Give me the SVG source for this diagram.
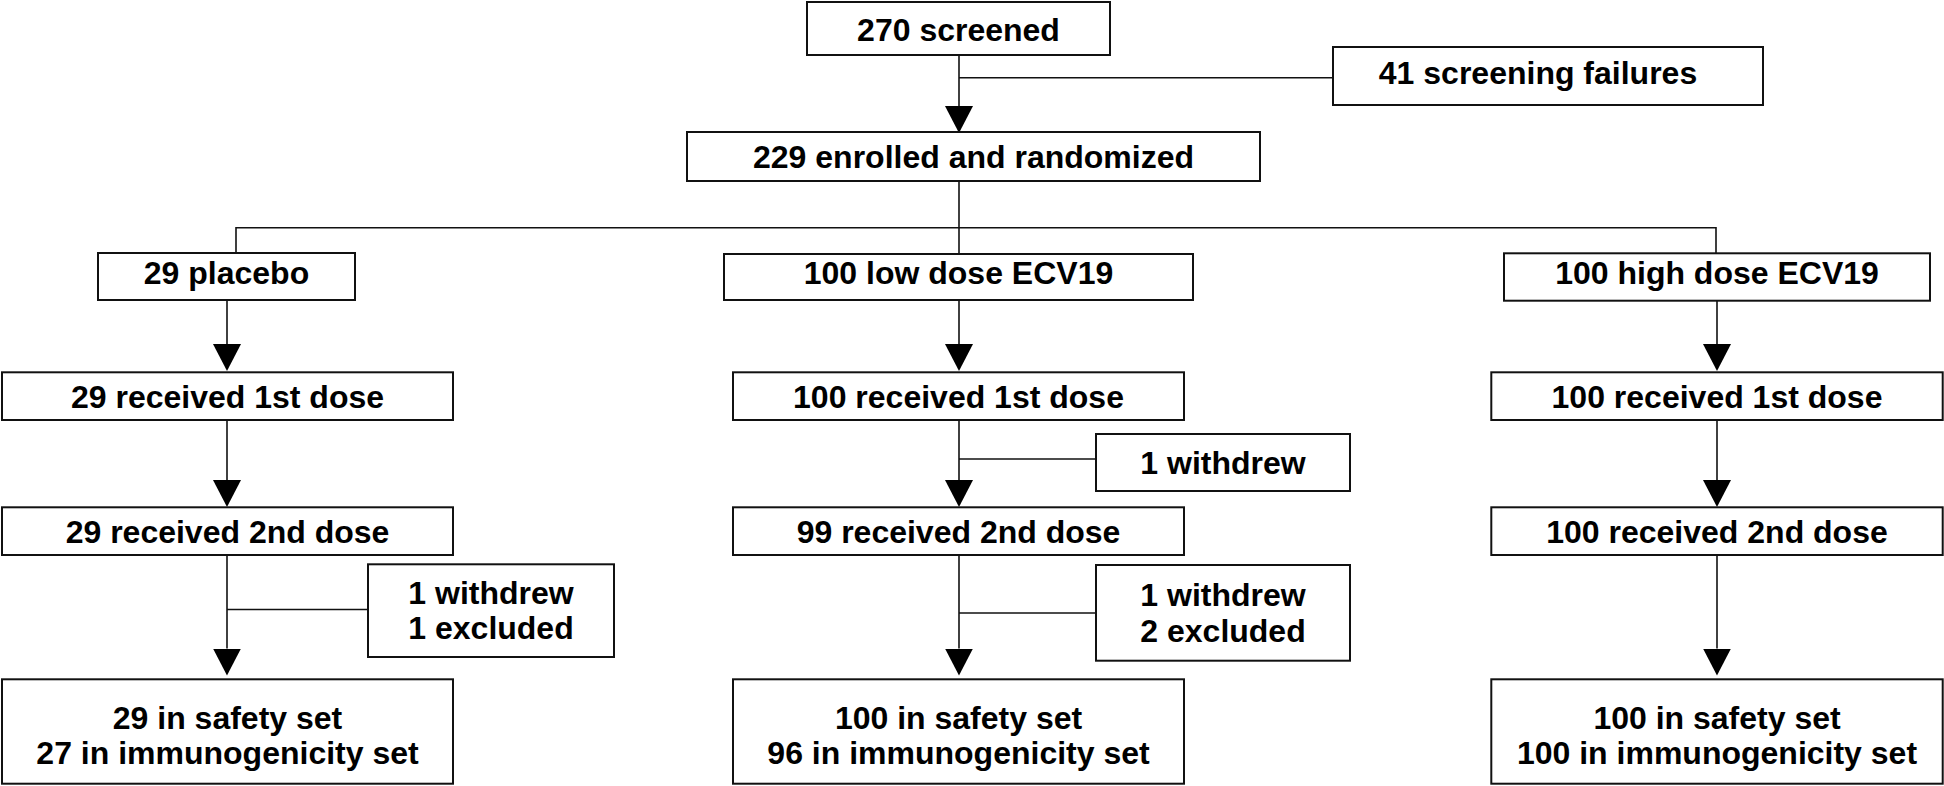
<svg xmlns="http://www.w3.org/2000/svg" width="1944" height="786" viewBox="0 0 1944 786">
  <style>
    .box { fill: #ffffff; stroke: #111111; stroke-width: 2; }
    .lbl { font-family: "Liberation Sans", Arial, Helvetica, sans-serif; font-weight: bold; font-size: 32px; fill: #000000; text-anchor: middle; }
    .conn { fill: none; stroke: #111111; stroke-width: 1.6; }
  </style>
  <defs>
    <marker id="ah" markerUnits="userSpaceOnUse" markerWidth="27" markerHeight="28" viewBox="0 0 27 28" refX="0" refY="14" orient="auto">
      <path d="M0,0 L27,14 L0,28 Z" fill="#000000"/>
    </marker>
  </defs>
  <rect x="0" y="0" width="1944" height="786" fill="#ffffff"/>

  <g id="connectors">
    <!-- screened to enrolled -->
    <line class="conn" x1="959" y1="55" x2="959" y2="106" marker-end="url(#ah)"/>
    <line class="conn" x1="959" y1="77.7" x2="1333" y2="77.7"/>
    <!-- randomization branch -->
    <line class="conn" x1="959" y1="181" x2="959" y2="254"/>
    <polyline class="conn" points="236,253 236,227.7 1716,227.7 1716,253"/>
    <!-- placebo column -->
    <line class="conn" x1="227" y1="300" x2="227" y2="344" marker-end="url(#ah)"/>
    <line class="conn" x1="227" y1="420" x2="227" y2="480" marker-end="url(#ah)"/>
    <line class="conn" x1="227" y1="555" x2="227" y2="648.5" marker-end="url(#ah)"/>
    <line class="conn" x1="227" y1="609.5" x2="368" y2="609.5"/>
    <!-- low dose column -->
    <line class="conn" x1="959" y1="300" x2="959" y2="344" marker-end="url(#ah)"/>
    <line class="conn" x1="959" y1="420" x2="959" y2="480" marker-end="url(#ah)"/>
    <line class="conn" x1="959" y1="459" x2="1096" y2="459"/>
    <line class="conn" x1="959" y1="555" x2="959" y2="648.5" marker-end="url(#ah)"/>
    <line class="conn" x1="959" y1="613" x2="1096" y2="613"/>
    <!-- high dose column -->
    <line class="conn" x1="1717" y1="300.7" x2="1717" y2="344" marker-end="url(#ah)"/>
    <line class="conn" x1="1717" y1="420" x2="1717" y2="480" marker-end="url(#ah)"/>
    <line class="conn" x1="1717" y1="555" x2="1717" y2="648.5" marker-end="url(#ah)"/>
  </g>

  <g id="screened">
    <rect class="box" x="807" y="2" width="303" height="53"/>
    <text class="lbl" x="958.5" y="41">270 screened</text>
  </g>
  <g id="failures">
    <rect class="box" x="1333" y="47" width="430" height="58"/>
    <text class="lbl" x="1538" y="83.5">41 screening failures</text>
  </g>
  <g id="enrolled">
    <rect class="box" x="687" y="132" width="573" height="49"/>
    <text class="lbl" x="973.5" y="168">229 enrolled and randomized</text>
  </g>

  <g id="placebo">
    <rect class="box" x="98" y="253" width="257" height="47"/>
    <text class="lbl" x="226.5" y="284">29 placebo</text>
  </g>
  <g id="low-dose">
    <rect class="box" x="724" y="254" width="469" height="46"/>
    <text class="lbl" x="958.5" y="284">100 low dose ECV19</text>
  </g>
  <g id="high-dose">
    <rect class="box" x="1504" y="253.3" width="426" height="47.4"/>
    <text class="lbl" x="1717" y="284">100 high dose ECV19</text>
  </g>

  <g id="placebo-dose1">
    <rect class="box" x="2" y="372.3" width="451" height="47.7"/>
    <text class="lbl" x="227.5" y="407.5">29 received 1st dose</text>
  </g>
  <g id="low-dose1">
    <rect class="box" x="733" y="372.3" width="451" height="47.7"/>
    <text class="lbl" x="958.5" y="407.5">100 received 1st dose</text>
  </g>
  <g id="high-dose1">
    <rect class="box" x="1491.3" y="372.3" width="451.4" height="47.7"/>
    <text class="lbl" x="1717" y="407.5">100 received 1st dose</text>
  </g>

  <g id="low-withdrew1">
    <rect class="box" x="1096" y="434" width="254" height="57"/>
    <text class="lbl" x="1223" y="474">1 withdrew</text>
  </g>

  <g id="placebo-dose2">
    <rect class="box" x="2" y="507.3" width="451" height="47.7"/>
    <text class="lbl" x="227.5" y="542.5">29 received 2nd dose</text>
  </g>
  <g id="low-dose2">
    <rect class="box" x="733" y="507.3" width="451" height="47.7"/>
    <text class="lbl" x="958.5" y="542.5">99 received 2nd dose</text>
  </g>
  <g id="high-dose2">
    <rect class="box" x="1491.3" y="507.3" width="451.4" height="47.7"/>
    <text class="lbl" x="1717" y="542.5">100 received 2nd dose</text>
  </g>

  <g id="placebo-excluded">
    <rect class="box" x="368" y="564.3" width="246" height="92.7"/>
    <text class="lbl" x="491" y="604">1 withdrew</text>
    <text class="lbl" x="491" y="639">1 excluded</text>
  </g>
  <g id="low-excluded">
    <rect class="box" x="1096" y="565" width="254" height="95.7"/>
    <text class="lbl" x="1223" y="605.5">1 withdrew</text>
    <text class="lbl" x="1223" y="641.5">2 excluded</text>
  </g>

  <g id="placebo-final">
    <rect class="box" x="2" y="679.3" width="451" height="104.4"/>
    <text class="lbl" x="227.5" y="729">29 in safety set</text>
    <text class="lbl" x="227.5" y="764">27 in immunogenicity set</text>
  </g>
  <g id="low-final">
    <rect class="box" x="733" y="679.3" width="451" height="104.4"/>
    <text class="lbl" x="958.5" y="729">100 in safety set</text>
    <text class="lbl" x="958.5" y="764">96 in immunogenicity set</text>
  </g>
  <g id="high-final">
    <rect class="box" x="1491.3" y="679.3" width="451.4" height="104.4"/>
    <text class="lbl" x="1717" y="729">100 in safety set</text>
    <text class="lbl" x="1717" y="764">100 in immunogenicity set</text>
  </g>
</svg>
